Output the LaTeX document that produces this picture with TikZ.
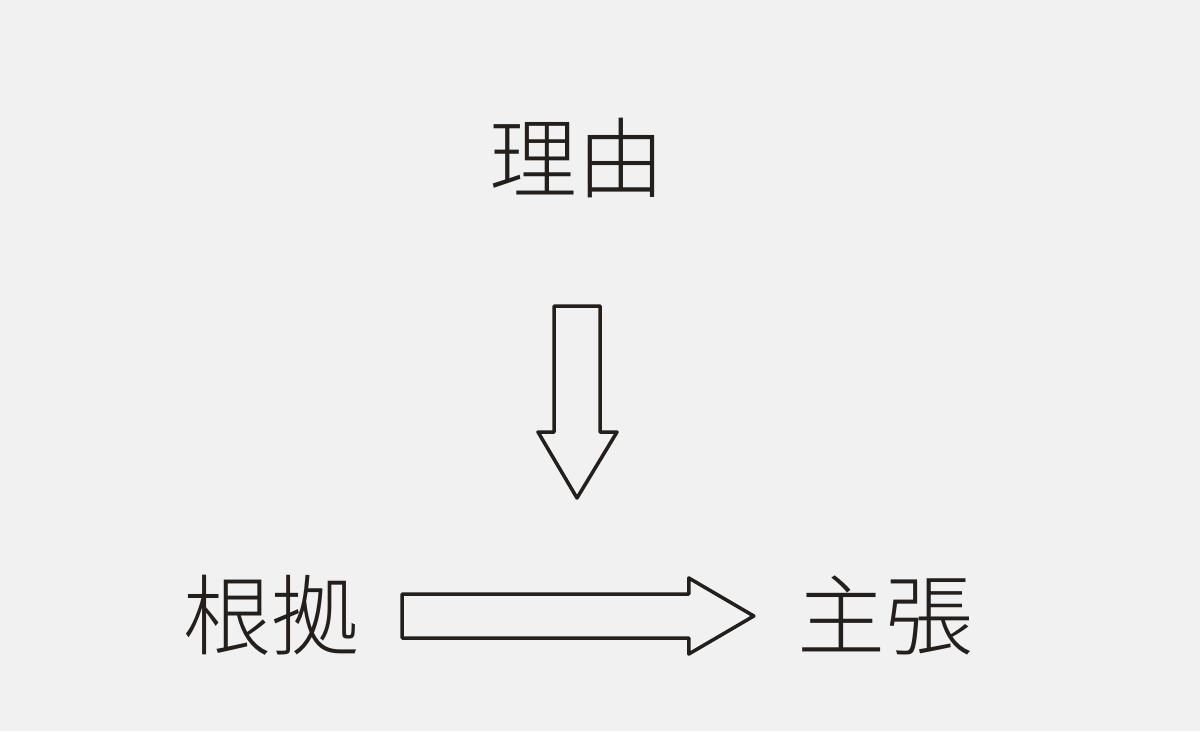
\documentclass[tikz,border=0pt]{standalone}
\usepackage{fontspec}
\newfontfamily\jpfont{Noto Sans CJK JP Light}
\usetikzlibrary{calc, positioning}
\definecolor{paper}{HTML}{F1F1F1}
\definecolor{ink}{HTML}{231F1C}
\tikzset{
  word/.style={font=\jpfont\fontsize{50}{60}\selectfont, text=ink, inner sep=0pt},
  fatarrow/.style={draw=ink, line width=2pt, line join=round, fill=paper}
}
\begin{document}
\begin{tikzpicture}[x=0.02cm, y=-0.02cm]
      \fill[paper] (0, 0) rectangle (1200, 731);
      \useasboundingbox (0, 0) rectangle (1200, 731);

      \node[word] (reason) at (577, 158) {理由};
      \node[word] (ground) at (271, 615) {根拠};
      \node[word] (claim) at (885, 615) {主張};

      % down arrow below reason
      \coordinate (dtop) at (577, 306);
      \coordinate (dtip) at (577, 498);
      \draw[fatarrow] ($(dtop)+(-23, 0)$) -- ($(dtop)+(23, 0)$) -- ($(dtip)+(23, -66)$)
        -- ($(dtip)+(40, -66)$) -- (dtip) -- ($(dtip)+(-39, -66)$) -- ($(dtip)+(-23, -66)$) -- cycle;

      % right arrow from ground to claim
      \coordinate (rtail) at ($(ground.east)+(43, 1)$);
      \coordinate (rtip) at ($(claim.west)+(-43, 1)$);
      \draw[fatarrow] ($(rtail)+(0, -22)$) -- ($(rtip)+(-65, -22)$) -- ($(rtip)+(-65, -38)$)
        -- (rtip) -- ($(rtip)+(-65, 38)$) -- ($(rtip)+(-65, 22)$) -- ($(rtail)+(0, 22)$) -- cycle;
\end{tikzpicture}
\end{document}
